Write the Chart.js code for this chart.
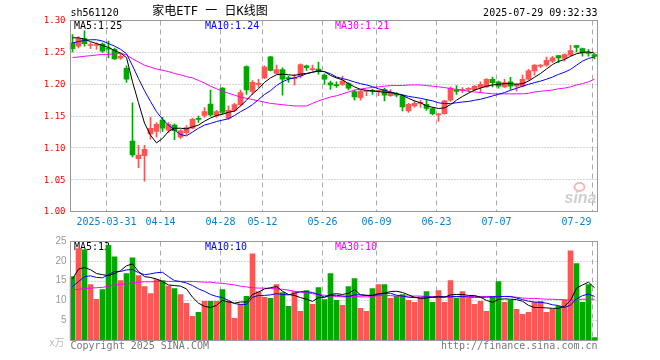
<!DOCTYPE html>
<html>
<head>
<meta charset="utf-8">
<script src="https://cdn.jsdelivr.net/npm/chart.js@4.4.1/dist/chart.umd.min.js"></script>
<style>
  html, body { margin: 0; padding: 0; background: #fff; }
  #wrap { position: relative; width: 660px; height: 360px; }
  canvas { position: absolute; left: 0; }
  #kline { top: 0; }
  #vol { top: 232px; }
</style>
</head>
<body>
<div id="wrap">
  <canvas id="kline" width="660" height="232"></canvas>
  <canvas id="vol" width="660" height="128"></canvas>
</div>
<script>
// trading days shown (2025)
const dates = [
  "03-21","03-24","03-25","03-26","03-27","03-28","03-31","04-01","04-02","04-03",
  "04-07","04-08","04-09","04-10","04-11","04-14","04-15","04-16","04-17","04-18",
  "04-21","04-22","04-23","04-24","04-25","04-28","04-29","04-30","05-06","05-07",
  "05-08","05-09","05-12","05-13","05-14","05-15","05-16","05-19","05-20","05-21",
  "05-22","05-23","05-26","05-27","05-28","05-29","05-30","06-03","06-04","06-05",
  "06-06","06-09","06-10","06-11","06-12","06-13","06-16","06-17","06-18","06-19",
  "06-20","06-23","06-24","06-25","06-26","06-27","06-30","07-01","07-02","07-03",
  "07-04","07-07","07-08","07-09","07-10","07-11","07-14","07-15","07-16","07-17",
  "07-18","07-21","07-22","07-23","07-24","07-25","07-28","07-29"
];

const openP = [
  1.264,1.259,1.271,1.260,1.260,1.262,1.256,1.254,1.240,1.224,
  1.110,1.082,1.087,1.121,1.125,1.143,1.127,1.135,1.116,1.123,
  1.130,1.145,1.150,1.168,1.150,1.193,1.146,1.158,1.167,1.227,
  1.188,1.199,1.209,1.242,1.216,1.222,1.209,1.208,1.212,1.228,
  1.222,1.223,1.2135,1.2015,1.198,1.199,1.200,1.1875,1.178,1.188,
  1.189,1.188,1.1906,1.181,1.183,1.181,1.157,1.165,1.169,1.1677,
  1.161,1.151,1.153,1.174,1.190,1.189,1.191,1.1906,1.194,1.195,
  1.207,1.203,1.195,1.203,1.196,1.196,1.207,1.220,1.2275,1.229,
  1.2354,1.244,1.2396,1.2448,1.2599,1.255,1.248,1.2458
];
const highP = [
  1.277,1.274,1.283,1.264,1.264,1.264,1.267,1.256,1.246,1.228,
  1.170,1.103,1.103,1.147,1.139,1.147,1.139,1.137,1.128,1.134,
  1.146,1.149,1.1625,1.190,1.158,1.194,1.165,1.169,1.190,1.228,
  1.205,1.207,1.228,1.243,1.229,1.225,1.212,1.2146,1.231,1.229,
  1.229,1.234,1.2156,1.204,1.203,1.212,1.2016,1.190,1.1896,1.189,
  1.191,1.190,1.193,1.1906,1.186,1.183,1.169,1.173,1.174,1.1755,
  1.1625,1.153,1.174,1.195,1.197,1.194,1.194,1.197,1.203,1.208,
  1.2104,1.204,1.207,1.210,1.200,1.2135,1.2224,1.230,1.230,1.2417,
  1.243,1.244,1.247,1.2604,1.260,1.256,1.2536,1.247
];
const lowP = [
  1.250,1.256,1.259,1.255,1.254,1.249,1.241,1.238,1.238,1.202,
  1.085,1.068,1.047,1.113,1.116,1.125,1.123,1.112,1.114,1.120,
  1.129,1.139,1.147,1.149,1.147,1.152,1.144,1.156,1.165,1.183,
  1.183,1.194,1.208,1.220,1.215,1.182,1.202,1.198,1.209,1.221,
  1.220,1.215,1.199,1.191,1.194,1.1974,1.190,1.174,1.174,1.181,
  1.183,1.181,1.173,1.180,1.179,1.157,1.155,1.1625,1.1625,1.158,
  1.151,1.1406,1.152,1.172,1.183,1.186,1.187,1.189,1.186,1.194,
  1.195,1.193,1.194,1.191,1.1885,1.195,1.205,1.2135,1.225,1.2276,
  1.233,1.233,1.2354,1.243,1.250,1.243,1.243,1.239
];
const closeP = [
  1.255,1.271,1.263,1.261,1.261,1.251,1.254,1.239,1.243,1.207,
  1.088,1.088,1.097,1.130,1.136,1.130,1.136,1.126,1.126,1.131,
  1.144,1.144,1.156,1.151,1.156,1.155,1.158,1.167,1.186,1.190,
  1.202,1.200,1.226,1.221,1.222,1.207,1.208,1.209,1.230,1.225,
  1.223,1.220,1.207,1.198,1.197,1.204,1.193,1.179,1.1885,1.1885,
  1.188,1.189,1.182,1.186,1.182,1.1635,1.1677,1.169,1.170,1.161,
  1.153,1.152,1.173,1.193,1.188,1.190,1.192,1.196,1.199,1.207,
  1.2016,1.196,1.2016,1.196,1.199,1.207,1.220,1.229,1.2285,1.2365,
  1.2406,1.2406,1.2458,1.252,1.257,1.2484,1.2474,1.2427
];

const ma5P = [
  1.272,1.272,1.270,1.266,1.263,1.260,1.257,1.252,1.248,1.241,
  1.203,1.170,1.138,1.119,1.107,1.114,1.125,1.130,1.130,1.129,
  1.132,1.135,1.141,1.146,1.150,1.152,1.155,1.157,1.165,1.174,
  1.184,1.192,1.202,1.209,1.214,1.215,1.214,1.213,1.215,1.216,
  1.218,1.220,1.219,1.213,1.209,1.206,1.200,1.195,1.191,1.1896,
  1.1885,1.1875,1.1865,1.186,1.1844,1.1815,1.177,1.173,1.170,1.165,
  1.163,1.161,1.162,1.167,1.174,1.180,1.185,1.190,1.193,1.196,
  1.198,1.199,1.200,1.200,1.199,1.200,1.204,1.210,1.216,1.223,
  1.230,1.235,1.238,1.243,1.247,1.249,1.250,1.248
];
const ma10P = [
  1.264,1.266,1.268,1.269,1.269,1.267,1.263,1.259,1.254,1.247,
  1.228,1.208,1.189,1.172,1.156,1.144,1.135,1.127,1.120,1.118,
  1.124,1.130,1.135,1.1375,1.1406,1.1427,1.145,1.150,1.156,1.161,
  1.167,1.175,1.183,1.189,1.197,1.203,1.207,1.209,1.212,1.2156,
  1.218,1.2198,1.2187,1.2156,1.2104,1.208,1.2057,1.2026,1.200,1.198,
  1.1953,1.192,1.1896,1.187,1.1844,1.1823,1.180,1.1786,1.177,1.175,
  1.173,1.170,1.1687,1.1687,1.170,1.1713,1.172,1.174,1.1755,1.178,
  1.1807,1.1833,1.186,1.1896,1.1927,1.196,1.199,1.2016,1.204,1.207,
  1.2104,1.2146,1.218,1.2224,1.229,1.2354,1.2396,1.242
];
const ma30P = [
  1.241,1.242,1.243,1.244,1.245,1.246,1.246,1.247,1.248,1.245,
  1.239,1.234,1.229,1.226,1.223,1.221,1.219,1.216,1.214,1.211,
  1.209,1.205,1.201,1.196,1.192,1.188,1.185,1.182,1.179,1.177,
  1.175,1.173,1.171,1.169,1.168,1.167,1.166,1.165,1.165,1.165,
  1.169,1.173,1.176,1.179,1.181,1.184,1.187,1.190,1.1915,1.193,
  1.194,1.195,1.196,1.197,1.197,1.197,1.198,1.198,1.198,1.197,
  1.196,1.195,1.194,1.192,1.191,1.190,1.188,1.187,1.186,1.185,
  1.184,1.184,1.184,1.184,1.184,1.184,1.185,1.187,1.188,1.189,
  1.190,1.192,1.193,1.195,1.198,1.200,1.203,1.207
];

// volume, 万手
const vol = [
  16.0,23.1,22.75,14.0,10.25,12.75,23.9,21.0,15.0,16.75,
  20.75,16.25,13.5,11.75,15.25,15.0,13.6,13.0,11.5,9.25,
  6.0,7.0,9.75,9.75,9.75,12.75,9.75,5.5,9.0,11.0,
  21.75,12.25,10.75,10.5,14.0,12.0,8.5,12.25,7.25,12.5,
  9.0,13.25,10.2,16.75,10.0,8.75,13.5,15.5,8.0,7.25,
  13.0,14.0,14.0,10.5,11.0,11.5,10.0,9.5,10.5,12.25,
  9.5,12.5,9.5,15.0,10.5,12.25,10.5,9.0,9.75,7.25,
  11.0,14.75,9.5,10.0,7.75,6.5,7.0,9.5,9.75,7.0,
  7.75,8.5,10.0,22.5,19.3,9.5,14.0,0.6
];
const ma5V = [
  15.4,17.9,18.3,17.75,16.8,16.5,16.25,16.8,17.5,18.75,
  19.2,17.3,16.0,15.8,15.4,14.75,13.9,13.75,13.6,12.9,
  10.8,9.3,8.5,8.2,8.75,10.0,9.6,9.3,9.6,9.6,
  11.5,12.1,12.9,13.2,13.5,12.3,11.5,11.25,10.7,10.3,
  9.75,10.7,10.8,11.5,11.7,11.5,11.8,12.7,11.4,11.25,
  11.3,11.7,11.8,12.25,12.3,12.0,11.4,10.8,10.5,10.6,
  10.8,11.0,10.8,11.4,11.5,11.5,11.25,11.25,10.8,10.0,
  9.5,10.25,10.4,10.3,10.2,9.8,8.75,8.2,8.2,8.1,
  8.0,8.0,8.5,10.0,13.1,13.9,14.6,13.2
];
const ma10V = [
  13.5,14.75,16.0,16.2,15.8,15.7,16.5,17.3,17.3,17.7,
  17.8,17.0,16.5,16.7,17.0,17.1,16.0,15.0,14.75,14.4,
  13.75,12.9,12.3,11.5,11.0,10.7,10.0,9.2,9.0,9.0,
  10.8,11.25,11.25,11.4,11.7,11.5,11.4,11.8,12.2,12.2,
  12.0,11.5,10.8,11.25,11.3,11.1,11.0,11.4,11.4,11.3,
  11.2,11.5,11.8,11.8,11.3,11.1,10.8,10.7,10.8,10.9,
  10.8,10.8,10.9,10.9,11.0,11.0,10.8,10.8,10.8,10.8,
  10.9,10.9,11.0,11.0,10.6,10.2,9.8,9.6,9.5,9.3,
  8.9,8.7,8.2,8.8,10.4,11.2,11.6,11.0
];
const ma30V = [
  12.7,12.8,13.0,13.1,13.2,13.3,13.6,13.9,14.0,14.2,
  14.4,14.6,14.7,14.7,14.8,14.8,14.8,14.8,14.8,14.8,
  14.8,14.7,14.6,14.6,14.4,14.3,14.1,13.9,13.6,13.4,
  13.2,13.1,13.1,13.0,12.9,12.8,12.6,12.3,12.1,11.9,
  11.7,11.5,11.3,11.1,11.0,10.9,10.9,11.0,10.9,10.9,
  11.0,11.2,11.3,11.2,11.1,11.1,11.1,11.1,11.1,11.0,
  11.0,10.9,10.9,10.9,10.9,10.9,11.0,11.0,11.0,11.0,
  11.0,11.0,11.0,10.9,10.8,10.6,10.5,10.5,10.4,10.3,
  10.3,10.2,10.2,10.0,10.2,10.3,10.3,10.3
];

const priceTicks = [1.30, 1.25, 1.20, 1.15, 1.10, 1.05, 1.00];
const volTicks = [25, 20, 15, 10, 5];
const tickDates = ["03-31","04-14","04-28","05-12","05-26","06-09","06-23","07-07","07-29"];
const tickText = ["2025-03-31","04-14","04-28","05-12","05-26","06-09","06-23","07-07","07-29"];

const UP = "#ff5555";
const DOWN = "#00a800";
const MONO = "'DejaVu Sans Mono', 'Liberation Mono', monospace";
const GRID = "#aaaaaa";
const FRAME = "#999999";

const candleColor = (i) => (closeP[i] >= openP[i] ? UP : DOWN);

// plot area starts half a pixel left so 1px wicks land on whole pixels
const PAD_L = 69.5, PAD_R = 62.5;

function frameBox(ca) {
  return {
    l: Math.ceil(ca.left) + 0.5,
    r: Math.floor(ca.right) + 0.5,
    t: Math.round(ca.top) + 0.5,
    b: Math.round(ca.bottom) + 0.5
  };
}

function drawGrid(chart, yValues) {
  const { ctx, chartArea: ca, scales } = chart;
  const f = frameBox(ca);
  ctx.save();
  ctx.strokeStyle = GRID;
  ctx.lineWidth = 1;
  ctx.setLineDash([1, 2]);
  yValues.forEach((v) => {
    const y = Math.round(scales.y.getPixelForValue(v)) + 0.5;
    if (y <= f.t + 1 || y >= f.b - 1) return;
    ctx.beginPath();
    ctx.moveTo(f.l, y);
    ctx.lineTo(f.r, y);
    ctx.stroke();
  });
  ctx.setLineDash([5, 4]);
  tickDates.forEach((d) => {
    const x = Math.floor(scales.x.getPixelForValue(dates.indexOf(d)) - 2) + 0.5;
    ctx.beginPath();
    ctx.moveTo(x, f.t);
    ctx.lineTo(x, f.b);
    ctx.stroke();
  });
  ctx.restore();
}

function drawFrame(chart) {
  const { ctx, chartArea: ca } = chart;
  const f = frameBox(ca);
  ctx.save();
  ctx.strokeStyle = FRAME;
  ctx.lineWidth = 1;
  ctx.strokeRect(f.l, f.t, f.r - f.l, f.b - f.t);
  ctx.restore();
}

function drawLegend(chart, items) {
  const { ctx, chartArea: ca } = chart;
  ctx.save();
  ctx.font = "10px " + MONO;
  ctx.textBaseline = "middle";
  ctx.textAlign = "left";
  items.forEach(([text, color, dx]) => {
    ctx.fillStyle = color;
    ctx.fillText(text, Math.ceil(ca.left) + dx, ca.top + 6);
  });
  ctx.restore();
}

const klineDecor = {
  id: "klineDecor",
  beforeDatasetsDraw(chart) {
    const { ctx, chartArea: ca } = chart;
    drawGrid(chart, priceTicks);
    drawLegend(chart, [
      ["MA5:" + ma5P[ma5P.length - 1].toFixed(2), "#000", 4],
      ["MA10:" + ma10P[ma10P.length - 1].toFixed(2), "#0000ff", 135],
      ["MA30:" + ma30P[ma30P.length - 1].toFixed(2), "#ff00ff", 265]
    ]);
    // sina watermark
    ctx.save();
    ctx.fillStyle = "#cfcfcf";
    ctx.font = "italic bold 16px 'Liberation Sans', sans-serif";
    ctx.textAlign = "right";
    ctx.textBaseline = "alphabetic";
    ctx.fillText("sina", ca.right - 1, ca.bottom - 8);
    ctx.strokeStyle = "#f4b8b8";
    ctx.lineWidth = 2;
    ctx.beginPath();
    ctx.ellipse(ca.right - 18, ca.bottom - 24, 5, 4, 0, 0, Math.PI * 2);
    ctx.stroke();
    ctx.restore();
  },
  afterDraw(chart) {
    const { ctx, chartArea: ca, scales } = chart;
    const f = frameBox(ca);
    drawFrame(chart);
    ctx.save();
    ctx.textBaseline = "middle";
    // price ticks
    ctx.font = "9px " + MONO;
    ctx.fillStyle = "#ff0000";
    ctx.textAlign = "right";
    priceTicks.forEach((v) => {
      ctx.fillText(v.toFixed(2), f.l - 5, scales.y.getPixelForValue(v) + 1);
    });
    // date ticks
    ctx.font = "10px " + MONO;
    ctx.fillStyle = "#0a7fd0";
    ctx.textAlign = "left";
    tickDates.forEach((d, k) => {
      const x = scales.x.getPixelForValue(dates.indexOf(d)) - 2;
      const w = ctx.measureText(tickText[k]).width;
      let left = x - w / 2;
      if (left + w > f.r - 6) left = f.r - 6 - w;
      ctx.fillText(tickText[k], left, ca.bottom + 11);
    });
    // header
    ctx.fillStyle = "#000";
    ctx.textAlign = "left";
    ctx.fillText("sh561120", f.l, 13);
    ctx.textAlign = "right";
    ctx.fillText("2025-07-29 09:32:33", f.r, 13);
    ctx.textAlign = "center";
    ctx.font = "12px " + MONO + ", 'Noto Sans CJK SC'";
    ctx.fillText("家电ETF 一 日K线图", 210, 12);
    ctx.restore();
  }
};

const volDecor = {
  id: "volDecor",
  beforeDatasetsDraw(chart) {
    drawGrid(chart, volTicks);
    drawLegend(chart, [
      ["MA5:" + Math.round(ma5V[ma5V.length - 1]), "#000", 4],
      ["MA10:10", "#0000ff", 135],
      ["MA30:" + Math.round(ma30V[ma30V.length - 1]), "#ff00ff", 265]
    ]);
  },
  afterDraw(chart) {
    const { ctx, chartArea: ca, scales } = chart;
    const f = frameBox(ca);
    drawFrame(chart);
    ctx.save();
    ctx.textBaseline = "middle";
    ctx.font = "10px 'Liberation Sans', sans-serif";
    ctx.fillStyle = "#999";
    ctx.textAlign = "right";
    volTicks.forEach((v) => {
      ctx.fillText(String(v), f.l - 4, scales.y.getPixelForValue(v));
    });
    ctx.fillStyle = "#bbb";
    ctx.font = "10px 'Noto Sans CJK SC', sans-serif";
    ctx.fillText("x万", f.l - 6, ca.bottom + 2);
    ctx.font = "10px " + MONO;
    ctx.fillStyle = "#777";
    ctx.textAlign = "left";
    ctx.fillText("Copyright 2025 SINA.COM", f.l, ca.bottom + 6);
    ctx.textAlign = "right";
    ctx.fillText("http://finance.sina.com.cn", f.r, ca.bottom + 6);
    ctx.restore();
  }
};

const lineSet = (data, color) => ({
  type: "line",
  data: data,
  borderColor: color,
  borderWidth: 1,
  pointRadius: 0,
  tension: 0,
  fill: false,
  order: 0
});

const baseOptions = (top, bottom, min, max) => ({
  responsive: false,
  animation: false,
  events: [],
  layout: { padding: { left: PAD_L, right: PAD_R, top: top, bottom: bottom } },
  plugins: { legend: { display: false }, tooltip: { enabled: false } },
  scales: {
    x: { display: false, offset: true },
    y: { display: false, min: min, max: max }
  }
});

new Chart(document.getElementById("kline"), {
  type: "bar",
  data: {
    labels: dates,
    datasets: [
      lineSet(ma5P, "#000000"),
      lineSet(ma10P, "#0000ff"),
      lineSet(ma30P, "#ff00ff"),
      {
        data: dates.map((d, i) => [lowP[i], highP[i]]),
        backgroundColor: (c) => candleColor(c.dataIndex),
        borderWidth: 0,
        barThickness: 1,
        grouped: false,
        order: 2
      },
      {
        data: dates.map((d, i) => [openP[i], closeP[i]]),
        backgroundColor: (c) => candleColor(c.dataIndex),
        borderWidth: 0,
        barThickness: 5,
        minBarLength: 1,
        grouped: false,
        order: 1
      }
    ]
  },
  options: baseOptions(20, 21, 1.0, 1.3),
  plugins: [klineDecor]
});

new Chart(document.getElementById("vol"), {
  type: "bar",
  data: {
    labels: dates,
    datasets: [
      lineSet(ma5V, "#000000"),
      lineSet(ma10V, "#0000ff"),
      lineSet(ma30V, "#ff00ff"),
      {
        data: vol,
        backgroundColor: (c) => candleColor(c.dataIndex),
        borderWidth: 0,
        barThickness: 5,
        grouped: false,
        order: 1
      }
    ]
  },
  options: baseOptions(9, 20, 0, 25),
  plugins: [volDecor]
});
</script>
</body>
</html>
